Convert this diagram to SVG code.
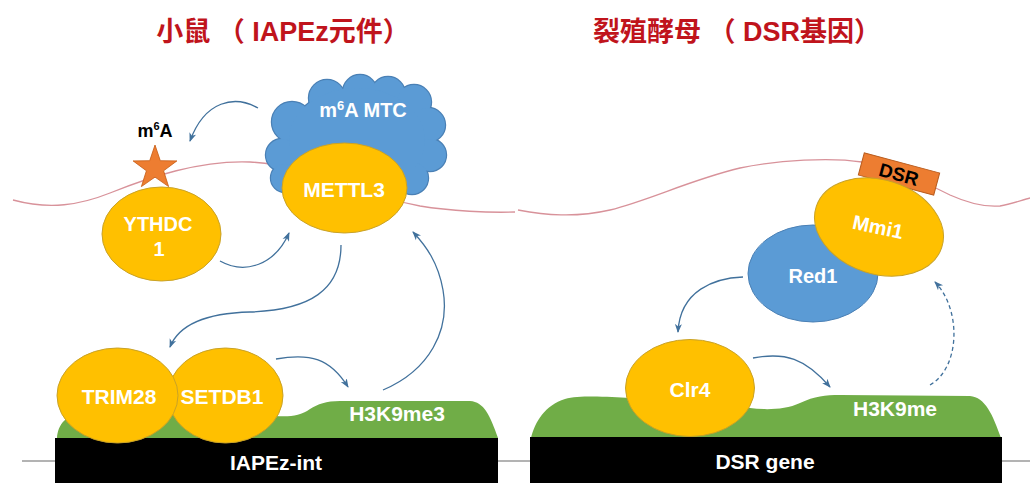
<svg xmlns="http://www.w3.org/2000/svg" width="1030" height="483" viewBox="0 0 1030 483">
<defs>
<style>
.t{font-family:"Liberation Sans",Arial,sans-serif;font-weight:bold;text-anchor:middle}
.w{fill:#ffffff}
.title{font-family:"Liberation Sans","Noto Sans CJK SC",sans-serif;font-weight:bold;font-size:27px;fill:#C0141C;text-anchor:middle}
.org{fill:#FFC000;stroke:#C9A227;stroke-width:1}
.blu{fill:#5B9BD5;stroke:#4A80B5;stroke-width:1}
.grn{fill:#70AD47}
.rna{fill:none;stroke:#D8929A;stroke-width:1.3}
.arr{fill:none;stroke:#41719C;stroke-width:1.3;marker-end:url(#ah)}
</style>
<marker id="ah" markerUnits="userSpaceOnUse" markerWidth="10" markerHeight="10" viewBox="0 0 10 10" refX="8" refY="5" orient="auto">
<path d="M0,1.5 L9,5 L0,8.5 L2.5,5 z" fill="#41719C"/>
</marker>
</defs>
<rect width="1030" height="483" fill="#ffffff"/>

<text class="title" x="283" y="41">小鼠 （ IAPEz元件）</text>
<text class="title" x="737" y="41">裂殖酵母 （ DSR基因）</text>

<line x1="22" y1="461" x2="1030" y2="461" stroke="#9a9a9a" stroke-width="1.5"/>

<path class="rna" d="M13,200 C50,210 80,205 110,193 C150,177 200,160 250,162 C290,164 330,180 360,190 C380,197 400,202 420,206 C450,211 490,213 515,212"/>
<path class="rna" d="M518,210 C545,215 575,218 610,210 C650,200 690,180 740,168 C780,160 830,157 862,162 C900,170 930,185 950,195 C970,204 988,207 1000,206 C1012,204 1022,200 1030,198"/>

<g id="iapez">
<path class="grn" d="M57,438 C58,425 65,413 90,412 L275,416 C290,417 300,416 310,409 C318,404 326,401 340,401 L470,401 C484,402 490,415 498,438 Z"/>
<rect x="55" y="438" width="443" height="45" fill="#000000"/>
<text class="t w" x="276" y="470" font-size="21">IAPEz-int</text>
</g>
<g id="dsrgene">
<path class="grn" d="M531,438 C535,422 545,405 565,399 C580,395 610,397 630,398 L750,408 C765,410 785,410 800,403 C815,396 825,395 840,395 L970,396 C985,397 993,415 1001,438 Z"/>
<rect x="530" y="437" width="472" height="46" fill="#000000"/>
<text class="t w" x="765" y="469" font-size="21">DSR gene</text>
</g>

<g id="h3k9me3"><text class="t w" x="397" y="421" font-size="21">H3K9me3</text></g>
<g id="h3k9me"><text class="t w" x="895" y="416" font-size="21">H3K9me</text></g>

<g id="setdb1">
<ellipse class="org" cx="225.5" cy="395.5" rx="57.5" ry="47.5"/>
<text class="t w" x="222" y="404" font-size="21">SETDB1</text>
</g>
<g id="trim28">
<ellipse class="org" cx="117.5" cy="395.5" rx="60.5" ry="47.5"/>
<text class="t w" x="119" y="404" font-size="21">TRIM28</text>
</g>

<g id="ythdc1">
<ellipse class="org" cx="161.5" cy="234" rx="59.5" ry="47"/>
<text class="t w" x="158" y="231" font-size="20">YTHDC</text>
<text class="t w" x="159" y="256" font-size="20">1</text>
</g>

<g id="m6a">
<polygon fill="#ED7D31" stroke="#C55A11" stroke-width="0.8" points="155,145 160.3,160.7 176.9,160.9 163.6,170.8 168.6,186.6 155,177.1 141.4,186.6 146.4,170.8 133.1,160.9 149.7,160.7"/>
<text class="t" x="155" y="137" font-size="18" fill="#000000">m<tspan font-size="11" dy="-7">6</tspan><tspan dy="7">A</tspan></text>
</g>

<g id="mtc">
<g stroke="#4A80B5" stroke-width="2.4" fill="#5B9BD5">
<circle cx="292" cy="122" r="20"/><circle cx="327" cy="98" r="18"/><circle cx="360" cy="92" r="17"/><circle cx="388" cy="94" r="17"/><circle cx="414" cy="102" r="17"/><circle cx="428" cy="125" r="17"/><circle cx="430" cy="155" r="16"/><circle cx="412" cy="178" r="16"/><circle cx="282" cy="155" r="16"/><circle cx="285" cy="178" r="14"/><ellipse cx="357" cy="140" rx="68" ry="52"/>
</g>
<g fill="#5B9BD5">
<circle cx="292" cy="122" r="20"/><circle cx="327" cy="98" r="18"/><circle cx="360" cy="92" r="17"/><circle cx="388" cy="94" r="17"/><circle cx="414" cy="102" r="17"/><circle cx="428" cy="125" r="17"/><circle cx="430" cy="155" r="16"/><circle cx="412" cy="178" r="16"/><circle cx="282" cy="155" r="16"/><circle cx="285" cy="178" r="14"/><ellipse cx="357" cy="140" rx="68" ry="52"/>
</g>
<text class="t w" x="363" y="117" font-size="20">m<tspan font-size="13" dy="-7">6</tspan><tspan dy="7">A MTC</tspan></text>
</g>

<g id="mettl3">
<ellipse class="org" cx="344.5" cy="188" rx="62.5" ry="45"/>
<text class="t w" x="344" y="197" font-size="21">METTL3</text>
</g>

<g id="red1">
<ellipse class="blu" cx="813" cy="273.5" rx="65" ry="48.5"/>
<text class="t w" x="813" y="283" font-size="20">Red1</text>
</g>

<g id="dsr">
<rect x="860" y="162.5" width="78" height="23" fill="#ED7D31" stroke="#B85C1E" stroke-width="1" transform="rotate(15 899 174)"/>
<text class="t" x="899" y="181" font-size="19" fill="#000000" transform="rotate(15 899 174)">DSR</text>
</g>

<g id="mmi1">
<ellipse class="org" cx="879" cy="227" rx="66" ry="47" transform="rotate(18 879 227)"/>
<text class="t w" x="878" y="234" font-size="20" transform="rotate(12 878 227)">Mmi1</text>
</g>

<g id="clr4">
<ellipse class="org" cx="690" cy="388" rx="64.5" ry="48.5"/>
<text class="t w" x="690" y="397" font-size="21">Clr4</text>
</g>

<g id="connectors">
<path class="arr" d="M258,108 C235,95 205,100 190,141"/>
<path class="arr" d="M220,261 C245,275 275,265 289,233"/>
<path class="arr" d="M341,245 C341,290 310,310 250,312 C210,313 180,322 170,347"/>
<path class="arr" d="M276,359 C310,353 330,358 348,387"/>
<path class="arr" d="M383,390 C430,370 450,330 443,290 C438,262 426,246 413,232"/>
<path class="arr" d="M743,277 C715,278 680,290 678,332"/>
<path class="arr" d="M753,358 C785,352 805,358 830,387"/>
<path class="arr" stroke-dasharray="4,3" d="M930,385 C960,368 962,310 935,282"/>
</g>
</svg>
